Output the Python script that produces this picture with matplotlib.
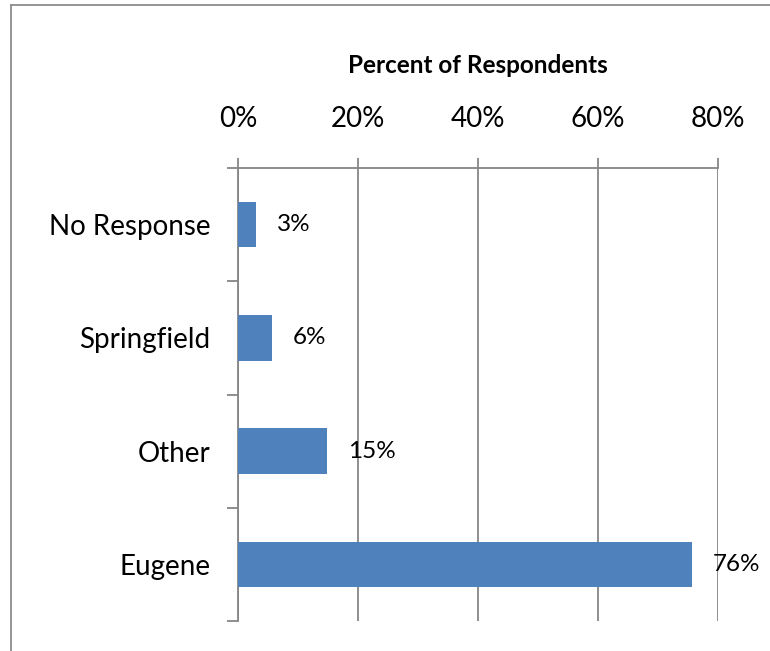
import matplotlib.pyplot as plt
from matplotlib.lines import Line2D

categories = ['No Response', 'Springfield', 'Other', 'Eugene']
values = [3.0, 5.7, 14.8, 75.7]
xticks = [0, 20, 40, 60, 80]

plt.rcParams['font.family'] = ['Lato', 'DejaVu Sans']
grey = '#868686'
bar_color = '#4F81BD'

fig = plt.figure(figsize=(7.7, 6.51), dpi=100)
ax = fig.add_axes([238 / 770, 1 - 621 / 651, 480 / 770, 453 / 651])

n = len(categories)
ypos = [n - 1 - i for i in range(n)]
ax.barh(ypos, values, height=0.4, color=bar_color, zorder=3)
for y, v in zip(ypos, values):
    ax.annotate(f'{round(v)}%', (v, y), xytext=(15, 0), textcoords='offset points',
                va='center', ha='left', fontsize=17.5, zorder=4)

ax.set_xlim(0, 80)
ax.set_ylim(-0.5, n - 0.5)
ax.set_xticks(xticks)
ax.set_xticklabels([f'{t}%' for t in xticks], fontsize=20)
ax.xaxis.tick_top()
ax.xaxis.set_label_position('top')
ax.set_xlabel('Percent of Respondents', fontsize=17.5, fontweight='bold', labelpad=24)
ax.tick_params(axis='x', direction='out', length=7, width=1.3, color=grey, pad=19)
ax.grid(axis='x', color=grey, linewidth=1.3, zorder=0)

ax.set_yticks([i - 0.5 for i in range(n + 1)])
ax.set_yticklabels([])
ax.set_yticks(ypos, minor=True)
ax.set_yticklabels(categories, minor=True, fontsize=20)
ax.tick_params(axis='y', which='major', direction='out', length=8, width=1.3, color=grey)
ax.tick_params(axis='y', which='minor', length=0, pad=20)

for side in ['right', 'bottom']:
    ax.spines[side].set_visible(False)
for side in ['top', 'left']:
    ax.spines[side].set_color(grey)
    ax.spines[side].set_linewidth(1.3)

# chart frame
fig.add_artist(Line2D([11 / 770, 11 / 770], [0, 1 - 5 / 651], transform=fig.transFigure,
                      color='#8c8c8c', linewidth=1.3))
fig.add_artist(Line2D([11 / 770, 1], [1 - 5 / 651, 1 - 5 / 651], transform=fig.transFigure,
                      color='#8c8c8c', linewidth=1.3))

fig.savefig('out.png', dpi=100)
